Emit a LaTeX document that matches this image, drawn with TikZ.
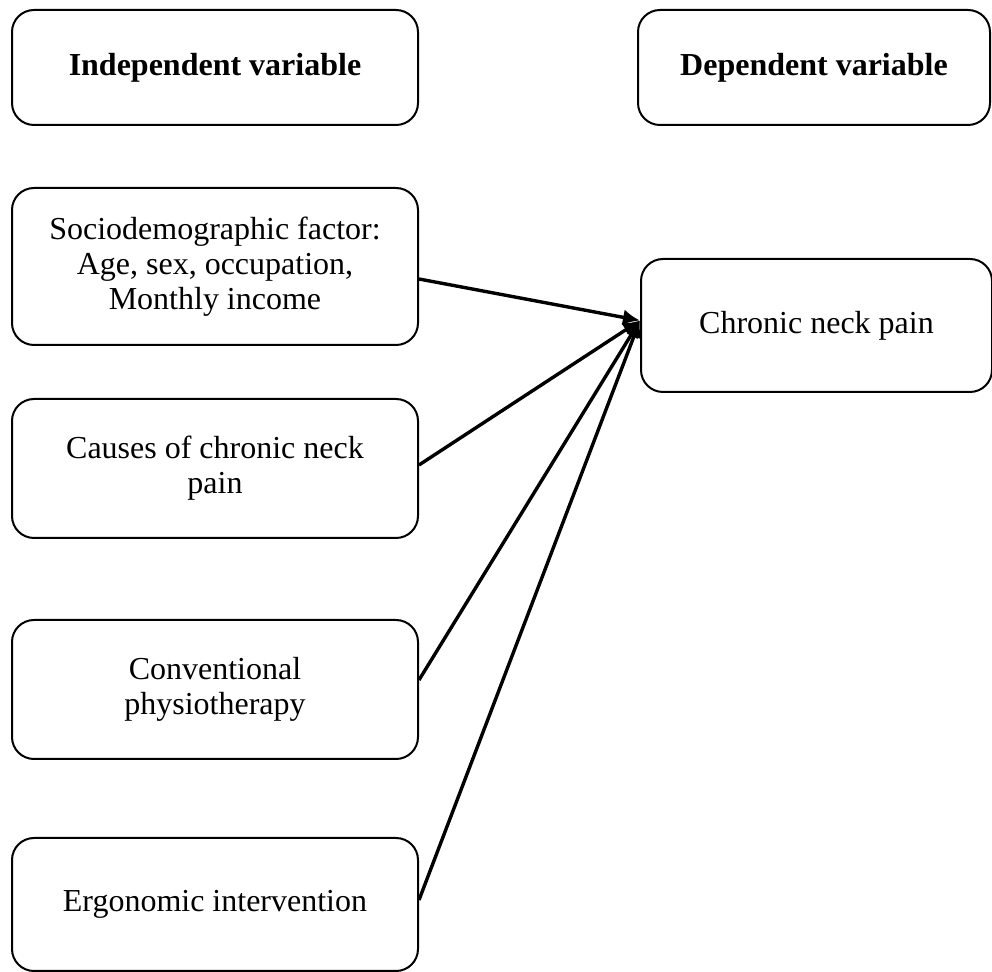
\documentclass[tikz,border=0pt]{standalone}
\usepackage{fontspec}
\setmainfont{Liberation Serif}
\usepackage{tikz}
\usetikzlibrary{arrows.meta, positioning}

\begin{document}
\begin{tikzpicture}[
  x=0.5pt, y=-0.5pt,
  vbox/.style={draw=black, rounded corners=11pt, line width=1pt, align=center, inner sep=4pt, font=\fontsize{16}{17.6}\selectfont},
  headbox/.style={vbox, minimum width=203pt, minimum height=57.5pt, font=\fontsize{16}{17.6}\selectfont\bfseries},
  lbox/.style={vbox, minimum width=203pt},
  link/.style={line width=1.7pt, -{Latex[length=8.5pt, width=8pt]}}
]
  \useasboundingbox (0,0) rectangle (992,972);
  % header row
  \node[headbox] (indep) at (215, 67.5) {Independent variable};
  \node[headbox, minimum width=176pt] (dep) at (814, 67.5) {Dependent variable};
  % independent factors
  \node[lbox, minimum height=78.5pt] (socio) at (215, 266.5) {Sociodemographic factor:\\ Age, sex, occupation,\\ Monthly income};
  \node[lbox, minimum height=69.5pt] (causes) at (215, 468.5) {Causes of chronic neck\\ pain};
  \node[lbox, minimum height=69.5pt] (conv) at (215, 689.5) {Conventional\\ physiotherapy};
  \node[lbox, minimum height=66.5pt] (ergo) at (215, 904.5) {Ergonomic intervention};
  % outcome
  \node[vbox, minimum width=175.5pt, minimum height=66.5pt] (pain) at (816.5, 325.5) {Chronic neck pain};
  \draw[link] ([yshift=-6.25pt]socio.east) -- ([yshift=2.5pt]pain.west);
  \draw[link] ([yshift=1.75pt]causes.east) -- ([yshift=2.5pt]pain.west);
  \draw[link] ([yshift=4.75pt]conv.east) -- ([yshift=2.5pt]pain.west);
  \draw[link] ([yshift=2.25pt]ergo.east) -- ([yshift=2.5pt]pain.west);
\end{tikzpicture}
\end{document}
